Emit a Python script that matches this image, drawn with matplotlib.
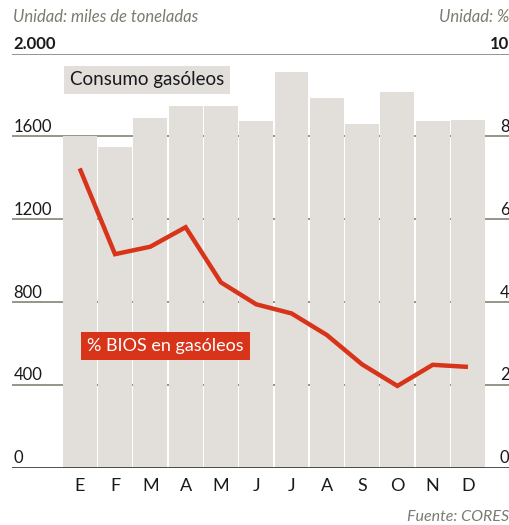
import numpy as np
import matplotlib
matplotlib.use("Agg")
import matplotlib.pyplot as plt

plt.rcParams['font.family'] = ['Lato', 'DejaVu Sans']

months = ['E', 'F', 'M', 'A', 'M', 'J', 'J', 'A', 'S', 'O', 'N', 'D']
consumo = [1600, 1551, 1691, 1749, 1747, 1673, 1910, 1787, 1659, 1815, 1675, 1680]
bios_pct = [7.23, 5.16, 5.34, 5.81, 4.48, 3.95, 3.73, 3.21, 2.50, 1.98, 2.49, 2.44]
left_ticks = [0, 400, 800, 1200, 1600, 2000]
left_labels = ['0', '400', '800', '1200', '1600', '2.000']
right_labels = ['0', '2', '4', '6', '8', '10']

W, H = 510, 525
bar_col = '#e2dfdb'
red = '#d8341a'
grid_col = '#8c8c80'
grey_txt = '#7b7b70'


def fx(px):
    return px / W


def fy(py):
    return 1 - py / H


fig = plt.figure(figsize=(W / 100, H / 100), dpi=100)
y0, ytop = 468, 53.6
ax = fig.add_axes([fx(12), fy(y0), fx(510) - fx(12), (y0 - ytop) / H])
ax.set_xlim(-1.918, 12.19)
ax.set_ylim(0, 2000)
ax.axis('off')

x = np.arange(len(months))
for t in left_ticks[1:]:
    ax.axhline(t, color=grid_col, lw=1.3, zorder=0)
ax.bar(x, consumo, width=0.96, color=bar_col, zorder=1)
# percent axis: 10% == 2000
ax.plot(x, np.array(bios_pct) * 200, color=red, lw=3.2, zorder=3,
        solid_joinstyle='miter', solid_capstyle='butt')
ax.axhline(0, color='#1a1a1a', lw=1.8, zorder=4)

for t, lab in zip(left_ticks, left_labels):
    ax.text(0.003, t + 8, lab, transform=ax.get_yaxis_transform(),
            ha='left', va='bottom', fontsize=12,
            fontweight='bold' if lab == '2.000' else 'normal', color='#1a1a1a')
for t, lab in zip(left_ticks, right_labels):
    ax.text(0.999, t + 8, lab, transform=ax.get_yaxis_transform(),
            ha='right', va='bottom', fontsize=12,
            fontweight='bold' if lab == '10' else 'normal', color='#1a1a1a')

for xi, m in zip(x, months):
    ax.text(xi, -88, m, ha='center', va='center', fontsize=13, color='#1a1a1a')

fig.text(fx(13), fy(17), 'Unidad: miles de toneladas', ha='left', va='center',
         fontsize=12, style='italic', color=grey_txt)
fig.text(fx(509), fy(17), 'Unidad: %', ha='right', va='center',
         fontsize=12, style='italic', color=grey_txt)
fig.text(fx(509), fy(517), 'Fuente: CORES', ha='right', va='center',
         fontsize=11.5, style='italic', color=grey_txt)

fig.text(fx(70), fy(80), 'Consumo gasóleos', ha='left', va='center',
         fontsize=13.5, color='#1a1a1a',
         bbox=dict(boxstyle='square,pad=0.3', fc=bar_col, ec='none'))
fig.text(fx(87), fy(346), '% BIOS en gasóleos', ha='left', va='center',
         fontsize=13, color='white',
         bbox=dict(boxstyle='square,pad=0.33', fc=red, ec='none'))

fig.savefig('out.png', dpi=100)
